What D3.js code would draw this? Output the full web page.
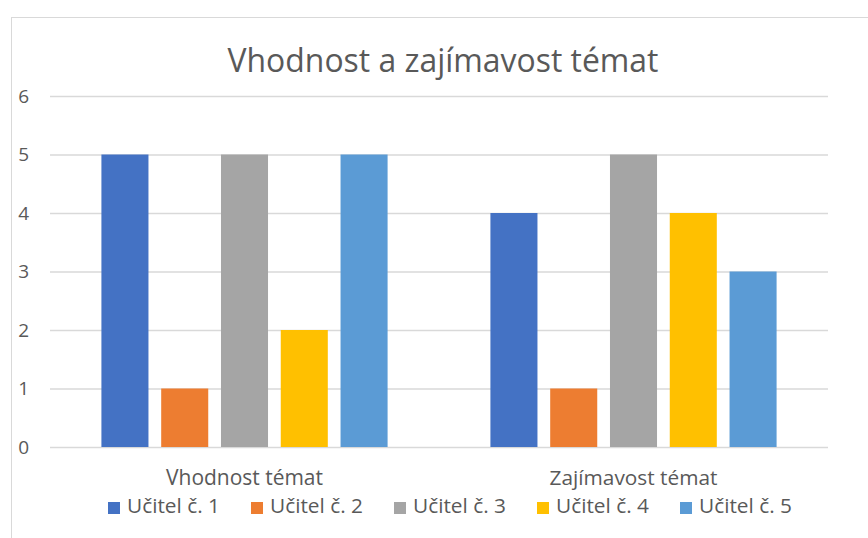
<!DOCTYPE html>
<html><head><meta charset="utf-8">
<script src="https://cdn.jsdelivr.net/npm/d3@7"></script>
<style>body{margin:0;background:#fff}svg{display:block}text{font-family:"Open Sans","Noto Sans",sans-serif;fill:#595959}</style>
</head><body>
<svg id="c" width="868" height="538"></svg>
<script>
const title = "Vhodnost a zajímavost témat";
const categories = ["Vhodnost témat", "Zajímavost témat"];
const seriesNames = ["Učitel č. 1", "Učitel č. 2", "Učitel č. 3", "Učitel č. 4", "Učitel č. 5"];
const ucitel1 = [5, 4];
const ucitel2 = [1, 1];
const ucitel3 = [5, 5];
const ucitel4 = [2, 4];
const ucitel5 = [5, 3];
const yTicks = [0, 1, 2, 3, 4, 5, 6];
const colors = ["#4472C4", "#ED7D31", "#A5A5A5", "#FFC000", "#5B9BD5"];

const seriesValues = [ucitel1, ucitel2, ucitel3, ucitel4, ucitel5];
const svg = d3.select("#c");

function fit(sel, target, start) {
  let fs = start;
  sel.style("font-size", fs + "px");
  for (let i = 0; i < 4; i++) {
    const w = sel.node().getComputedTextLength();
    fs = fs * target / w;
    sel.style("font-size", fs + "px");
  }
  return fs;
}

// chart border
svg.append("rect").attr("x", 11.5).attr("y", 17.5).attr("width", 900).attr("height", 600)
  .attr("fill", "none").attr("stroke", "#d9d9d9").attr("stroke-width", 1);

const pL = 50, pR = 828, pT = 96, pB = 447;
const x0 = d3.scaleBand().domain(categories).range([pL, pR]).padding(0);
const x1 = d3.scaleBand().domain(seriesNames).range([0, x0.bandwidth()]).paddingInner(0.213).paddingOuter(0.86);
const y = d3.scaleLinear().domain([0, 6]).range([pB, pT]);

// grid + y labels
const yAxis = svg.append("g").attr("transform", `translate(${pL},0)`)
  .call(d3.axisLeft(y).tickValues(yTicks).tickSizeInner(-(pR - pL)).tickSizeOuter(0).tickPadding(21).tickFormat(d3.format("d")));
yAxis.attr("font-size", null).attr("font-family", null);
yAxis.select(".domain").remove();
yAxis.selectAll(".tick line").attr("stroke", "#d9d9d9").attr("stroke-width", 1.3);
yAxis.selectAll(".tick text").attr("font-size", 19).style("font-size", "19px").attr("fill", "#595959");

// bars
const groups = svg.append("g").selectAll("g").data(categories).join("g")
  .attr("transform", d => `translate(${x0(d)},0)`);
groups.selectAll("rect").data((c, ci) => seriesNames.map((s, si) => ({s, si, v: seriesValues[si][ci]})))
  .join("rect")
  .attr("x", d => x1(d.s)).attr("width", x1.bandwidth())
  .attr("y", d => y(d.v)).attr("height", d => y(0) - y(d.v))
  .attr("fill", d => colors[d.si]);

// x axis labels
const xAxis = svg.append("g").attr("transform", `translate(0,${pB})`)
  .call(d3.axisBottom(x0).tickSize(0).tickPadding(0));
xAxis.attr("font-size", null).attr("font-family", null);
xAxis.select(".domain").remove();
xAxis.selectAll(".tick text").attr("dy", null).attr("y", 38).attr("fill", "#595959");
xAxis.selectAll(".tick text").each(function(d){ fit(d3.select(this), d === categories[0] ? 157 : 168, 16); });

// title
const t = svg.append("text").attr("x", 443).attr("y", 72).attr("text-anchor", "middle").text(title).attr("fill", "#595959");
fit(t, 431, 28);

// legend
const leg = svg.append("g");
let lx = 108;
seriesNames.forEach((s, i) => {
  leg.append("rect").attr("x", lx).attr("y", 502).attr("width", 12).attr("height", 12).attr("fill", colors[i]);
  const tx = leg.append("text").attr("x", lx + 19).attr("y", 513).text(s).attr("fill", "#595959");
  fit(tx, 93, 16);
  lx += 19 + 93 + 31;
});
</script>
</body></html>
